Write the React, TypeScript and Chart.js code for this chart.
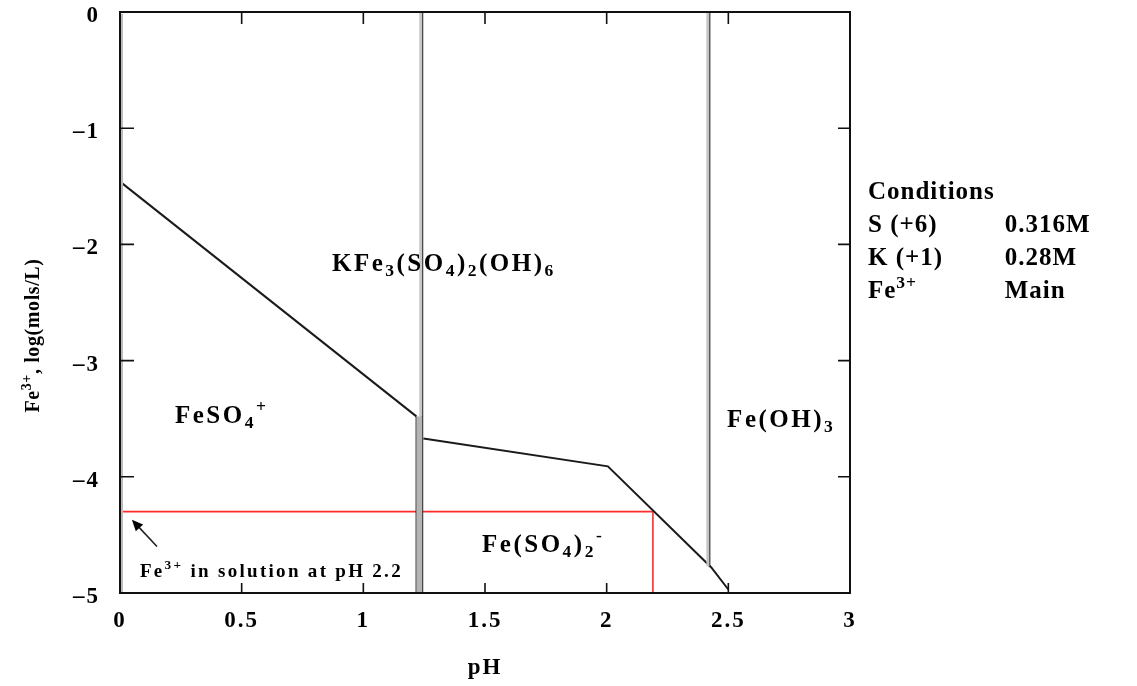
import React, { useEffect, useRef } from 'react';
import { Chart, registerables } from 'chart.js';

Chart.register(...registerables);

// ---- axis ticks ----
const xTicks = [0, 0.5, 1, 1.5, 2, 2.5, 3];
const yTicks = [0, -1, -2, -3, -4, -5];

// ---- stability-field boundaries (pH, log[Fe3+]) ----
const feso4TopPH = [0, 1.218];
const feso4TopLog = [-1.46, -3.48];
const feso4RightPH = [1.218, 1.218];
const feso4RightLog = [-3.48, -5];
const jarositeEdgePH = [1.242, 1.242];
const jarositeEdgeLog = [0, -5];
const jarositeBottomPH = [1.247, 2.005, 2.43, 2.5];
const jarositeBottomLog = [-3.67, -3.91, -4.78, -4.97];
const hydroxideEdgePH = [2.422, 2.422];
const hydroxideEdgeLog = [0, -4.77];

// ---- read-out at pH 2.2 ----
const readoutPH = [0, 2.19, 2.19];
const readoutLog = [-4.3, -4.3, -5];

// ---- region labels ----
type Seg = { t: string; s?: 'sub' | 'sup' };
const regionNames: Seg[][] = [
  [{ t: 'KFe' }, { t: '3', s: 'sub' }, { t: '(SO' }, { t: '4', s: 'sub' }, { t: ')' }, { t: '2', s: 'sub' }, { t: '(OH)' }, { t: '6', s: 'sub' }],
  [{ t: 'FeSO' }, { t: '4', s: 'sub' }, { t: '+', s: 'sup' }],
  [{ t: 'Fe(SO' }, { t: '4', s: 'sub' }, { t: ')' }, { t: '2', s: 'sub' }, { t: '-', s: 'sup' }],
  [{ t: 'Fe(OH)' }, { t: '3', s: 'sub' }],
];
const regionPH = [0.871, 0.226, 1.488, 2.495];
const regionLog = [-2.229, -3.537, -4.647, -3.571];

const noteText: Seg[] = [{ t: 'Fe' }, { t: '3+', s: 'sup' }, { t: ' in solution at pH 2.2' }];
const notePH = 0.082;
const noteLog = -4.862;
const arrowFromPH = 0.152;
const arrowFromLog = -4.6;
const arrowToPH = 0.049;
const arrowToLog = -4.37;

const yTitle: Seg[] = [{ t: 'Fe' }, { t: '3+', s: 'sup' }, { t: ', log(mols/L)' }];

const conditionsTitle = 'Conditions';
const conditionNames: Seg[][] = [[{ t: 'S (+6)' }], [{ t: 'K (+1)' }], [{ t: 'Fe' }, { t: '3+', s: 'sup' }]];
const conditionValues = ['0.316M', '0.28M', 'Main'];

const FAMILY = "'Liberation Serif', 'Times New Roman', serif";

function pts(xs: number[], ys: number[]) {
  return xs.map((x, i) => ({ x, y: ys[i] }));
}

function drawRich(ctx: CanvasRenderingContext2D, segs: Seg[], x: number, y: number, size: number, spacing = 0, align: 'left' | 'center' = 'left') {
  const font = (s: number) => `bold ${s}px ${FAMILY}`;
  const sizes = segs.map((g) => (g.s ? size * 0.7 : size));
  const anyCtx = ctx as any;
  anyCtx.letterSpacing = `${spacing}px`;
  let total = 0;
  const widths = segs.map((g, i) => {
    ctx.font = font(sizes[i]);
    const w = ctx.measureText(g.t).width;
    total += w;
    return w;
  });
  let cx = align === 'center' ? x - total / 2 : x;
  ctx.textBaseline = 'alphabetic';
  ctx.textAlign = 'left';
  segs.forEach((g, i) => {
    ctx.font = font(sizes[i]);
    const dy = g.s === 'sub' ? size * 0.2 : g.s === 'sup' ? -size * 0.42 : 0;
    ctx.fillText(g.t, cx, y + dy);
    cx += widths[i];
  });
  anyCtx.letterSpacing = '0px';
  return total;
}

const spacingPlugin = {
  id: 'spacing',
  beforeDraw(chart: any) {
    (chart.ctx as any).letterSpacing = '2px';
  },
};

const decorPlugin = {
  id: 'decor',
  afterDraw(chart: any) {
    const { ctx, chartArea: a, scales } = chart;
    (ctx as any).letterSpacing = '0px';
    const xs = scales.x;
    const ys = scales.y;
    ctx.save();
    // frame
    ctx.strokeStyle = '#bbbbbb';
    ctx.lineWidth = 2;
    ctx.beginPath();
    ctx.moveTo(a.left + 2, a.top + 2);
    ctx.lineTo(a.left + 2, a.bottom);
    ctx.stroke();
    ctx.strokeStyle = '#111';
    ctx.lineWidth = 2;
    ctx.strokeRect(a.left, a.top, a.right - a.left, a.bottom - a.top);
    // inward ticks on all four sides
    ctx.lineWidth = 1.6;
    ctx.beginPath();
    xTicks.forEach((v) => {
      if (v === xs.min || v === xs.max) return;
      const px = xs.getPixelForValue(v);
      ctx.moveTo(px, a.bottom);
      ctx.lineTo(px, a.bottom - 10);
      ctx.moveTo(px, a.top);
      ctx.lineTo(px, a.top + 12);
    });
    yTicks.forEach((v) => {
      if (v === ys.min || v === ys.max) return;
      const py = ys.getPixelForValue(v);
      ctx.moveTo(a.left, py);
      ctx.lineTo(a.left + 14, py);
      ctx.moveTo(a.right, py);
      ctx.lineTo(a.right - 12, py);
    });
    ctx.stroke();

    ctx.fillStyle = '#000';
    // region labels
    regionNames.forEach((segs, i) => {
      drawRich(ctx, segs, xs.getPixelForValue(regionPH[i]), ys.getPixelForValue(regionLog[i]), 25, 2.5);
    });
    // note + arrow
    drawRich(ctx, noteText, xs.getPixelForValue(notePH), ys.getPixelForValue(noteLog), 19, 2.3);
    const x0 = xs.getPixelForValue(arrowFromPH);
    const y0 = ys.getPixelForValue(arrowFromLog);
    const x1 = xs.getPixelForValue(arrowToPH);
    const y1 = ys.getPixelForValue(arrowToLog);
    const ang = Math.atan2(y1 - y0, x1 - x0);
    ctx.strokeStyle = '#222';
    ctx.lineWidth = 1.6;
    ctx.beginPath();
    ctx.moveTo(x0, y0);
    ctx.lineTo(x1 - 6 * Math.cos(ang), y1 - 6 * Math.sin(ang));
    ctx.stroke();
    ctx.beginPath();
    ctx.moveTo(x1, y1);
    ctx.lineTo(x1 - 11 * Math.cos(ang) + 5 * Math.sin(ang), y1 - 11 * Math.sin(ang) - 5 * Math.cos(ang));
    ctx.lineTo(x1 - 11 * Math.cos(ang) - 5 * Math.sin(ang), y1 - 11 * Math.sin(ang) + 5 * Math.cos(ang));
    ctx.closePath();
    ctx.fill();

    // y-axis title
    ctx.save();
    ctx.translate(39, (a.top + a.bottom) / 2 + 33);
    ctx.rotate(-Math.PI / 2);
    drawRich(ctx, yTitle, 0, 0, 20, 0.6, 'center');
    ctx.restore();

    // conditions block
    const cx = a.right + 18;
    const titleW = drawRich(ctx, [{ t: conditionsTitle }], cx, 199, 25, 1);
    const vx = cx + titleW + 10;
    conditionNames.forEach((segs, i) => {
      const by = 232 + i * 33;
      drawRich(ctx, segs, cx, by, 25, 1);
      drawRich(ctx, [{ t: conditionValues[i] }], vx, by, 25, 1);
    });
    ctx.restore();
  },
};

export default function App() {
  const ref = useRef<HTMLCanvasElement>(null);
  useEffect(() => {
    const canvas = ref.current!;
    const tickFont = { family: FAMILY, size: 23, weight: 'bold' as const };
    const line = (xs: number[], ys: number[], color: string, width: number) => ({
      data: pts(xs, ys),
      showLine: true,
      borderColor: color,
      backgroundColor: color,
      borderWidth: width,
      pointRadius: 0,
      fill: false,
      clip: 4,
    });
    const chart = new Chart(canvas, {
      type: 'scatter',
      data: {
        datasets: [
          line([1.23, 1.23], feso4RightLog, '#b4b4b4', 6),
          line([2.416, 2.416], hydroxideEdgeLog, '#c4c4c4', 3),
          line([1.236, 1.236], [0, -3.48], '#c8c8c8', 3),
          line(feso4TopPH, feso4TopLog, '#1a1a1a', 2),
          line(feso4RightPH, feso4RightLog, '#1a1a1a', 1.6),
          line(jarositeEdgePH, jarositeEdgeLog, '#1a1a1a', 2),
          line(jarositeBottomPH, jarositeBottomLog, '#1a1a1a', 2),
          line(hydroxideEdgePH, hydroxideEdgeLog, '#1a1a1a', 2),
          line(readoutPH, readoutLog, '#ff2a2a', 1.6),
        ] as any,
      },
      options: {
        responsive: false,
        animation: false,
        events: [],
        layout: { padding: { left: 0, right: 287, top: 12, bottom: 0 } },
        plugins: { legend: { display: false }, tooltip: { enabled: false } },
        scales: {
          x: {
            type: 'linear',
            min: 0,
            max: 3,
            afterBuildTicks: (s: any) => {
              s.ticks = xTicks.map((v) => ({ value: v }));
            },
            afterFit: (s: any) => {
              s.height = 93;
              s.paddingLeft = 0;
              s.paddingRight = 0;
            },
            ticks: {
              font: tickFont,
              color: '#000',
              padding: 14,
              maxRotation: 0,
              autoSkip: false,
              callback: (v: any) => String(v),
            },
            grid: { display: false, drawTicks: false },
            border: { display: false },
            title: {
              display: true,
              text: 'pH',
              color: '#000',
              font: { family: FAMILY, size: 23, weight: 'bold' },
              padding: { top: 0, bottom: 4 },
            },
          },
          y: {
            type: 'linear',
            min: -5,
            max: 0,
            afterBuildTicks: (s: any) => {
              s.ticks = yTicks.map((v) => ({ value: v }));
            },
            afterFit: (s: any) => {
              s.width = 120;
              s.paddingTop = 0;
              s.paddingBottom = 0;
            },
            ticks: {
              font: tickFont,
              color: '#000',
              padding: 20,
              labelOffset: 4,
              callback: (v: any) => String(v).replace('-', '\u2013'),
            },
            grid: { display: false, drawTicks: false },
            border: { display: false },
          },
        },
      } as any,
      plugins: [spacingPlugin, decorPlugin],
    });
    return () => chart.destroy();
  }, []);
  return (
    <div style={{ position: 'fixed', left: 0, top: 0, width: 1137, height: 686, background: '#fff' }}>
      <canvas ref={ref} width={1137} height={686} style={{ display: 'block' }} />
    </div>
  );
}
